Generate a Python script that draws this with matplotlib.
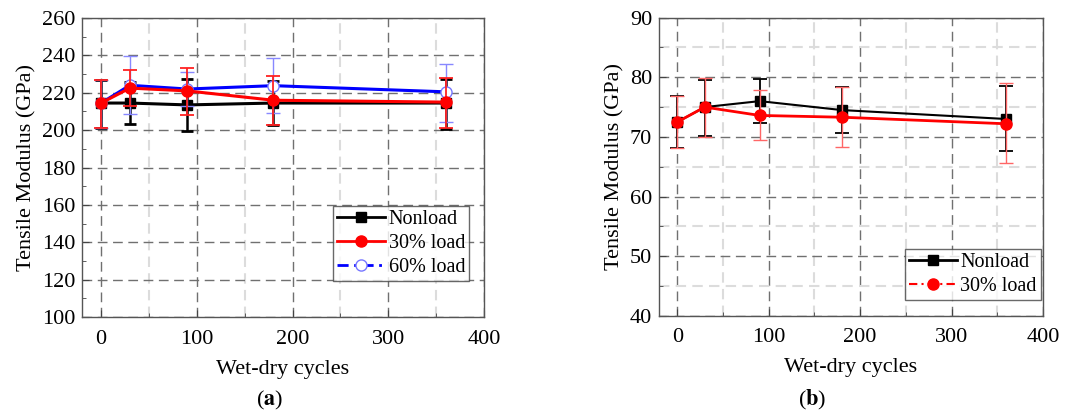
import matplotlib
matplotlib.use("Agg")
import matplotlib.pyplot as plt
from matplotlib.lines import Line2D
from matplotlib.ticker import MultipleLocator

plt.rcParams['font.family'] = ['Liberation Serif', 'DejaVu Serif']
plt.rcParams['mathtext.fontset'] = 'stix'

# ---- data panel (a) ----
cycles = [0, 30, 90, 180, 360]
a_non = [214.5, 214.5, 213.5, 214.5, 214.5]
a_non_lo = [201, 203.5, 199.5, 202.5, 200.5]
a_non_hi = [227, 225.5, 227.5, 226.5, 227.5]
a_30 = [214.5, 222.5, 221, 216, 215]
a_30_lo = [201, 213, 208, 203, 201]
a_30_hi = [227, 232, 233.5, 229, 228]
a_60 = [214.5, 224, 222, 223.8, 220.5]
a_60_lo = [201, 208.5, 213, 209, 204.5]
a_60_hi = [227, 239.5, 231, 238.5, 235.5]

# ---- data panel (b) ----
b_non = [72.5, 75, 76, 74.5, 73]
b_non_lo = [68.2, 70.2, 72.3, 70.6, 67.7]
b_non_hi = [76.8, 79.6, 79.7, 78.3, 78.5]
b_30 = [72.5, 75, 73.6, 73.3, 72.2]
b_30_lo = [68.2, 70.0, 69.4, 68.3, 65.6]
b_30_hi = [76.8, 79.8, 77.8, 78.3, 79.0]

legend_a = ["Nonload", "30% load", "60% load"]
legend_b = ["Nonload", "30% load"]

FS = 16
LFS = 14.5

fig = plt.figure(figsize=(10.83, 4.19), dpi=100)
ax1 = fig.add_axes([0.0757, 0.2434, 0.3712, 0.7136])
ax2 = fig.add_axes([0.6085, 0.2465, 0.3546, 0.7113])


def err(v, lo, hi):
    return [[a - b for a, b in zip(v, lo)], [b - a for a, b in zip(v, hi)]]


def style(ax, ymin, ymax, ymaj, ymin_step, minor_hgrid):
    ax.set_xlim(-20, 400)
    ax.set_ylim(ymin, ymax)
    ax.xaxis.set_major_locator(MultipleLocator(100))
    ax.xaxis.set_minor_locator(MultipleLocator(50))
    ax.yaxis.set_major_locator(MultipleLocator(ymaj))
    ax.yaxis.set_minor_locator(MultipleLocator(ymin_step))
    ax.grid(True, which='major', linestyle=(0, (7, 4)), color='#707070', linewidth=1.0)
    ax.grid(True, which='minor', axis='x', linestyle=(0, (5, 3)), color='#dcdcdc', linewidth=1.5)
    if minor_hgrid:
        ax.grid(True, which='minor', axis='y', linestyle=(0, (5, 3)), color='#dcdcdc', linewidth=1.5)
    ax.set_axisbelow(True)
    ax.tick_params(which='both', direction='in', labelsize=FS, color='#444444')
    ax.tick_params(which='major', length=5)
    ax.tick_params(which='minor', length=3)
    ax.tick_params(axis='x', pad=9)
    ax.tick_params(axis='y', pad=5)
    for s in ax.spines.values():
        s.set_color('#555555')
        s.set_linewidth(1.0)
    ax.set_xlabel("Wet-dry cycles", fontsize=FS, labelpad=8)
    ax.set_ylabel("Tensile Modulus (GPa)", fontsize=FS, labelpad=4)


# panel (a)
ax1.errorbar(cycles, a_60, yerr=err(a_60, a_60_lo, a_60_hi), color='#0000ff', lw=2.2,
             marker='o', ms=8, mfc='white', mec='#7777ff', mew=1.0,
             ecolor='#8888ff', elinewidth=1.0, capsize=5, capthick=1.0, zorder=3)
ax1.errorbar(cycles, a_30, yerr=err(a_30, a_30_lo, a_30_hi), color='#ff0000', lw=2.2,
             marker='o', ms=8, mfc='#ff0000', mec='#ff0000',
             ecolor='#ff2222', elinewidth=1.3, capsize=5, capthick=1.3, zorder=4)
ax1.errorbar(cycles, a_non, yerr=err(a_non, a_non_lo, a_non_hi), color='black', lw=2.2,
             marker='s', ms=7, mfc='black', mec='black',
             ecolor='black', elinewidth=1.8, capsize=4, capthick=2.0, zorder=2)
style(ax1, 100, 260, 20, 10, False)

h_a = [Line2D([], [], color='black', lw=2, ls='-', marker='s', ms=6.5),
       Line2D([], [], color='#ff0000', lw=2, ls='-', marker='o', ms=8),
       Line2D([], [], color='#0000ff', lw=2, ls=(0, (4, 2, 1, 2)), marker='o', ms=8,
              mfc='white', mec='#7777ff')]
leg1 = ax1.legend(h_a, legend_a, loc='upper right', bbox_to_anchor=(0.4331, 0.509),
                  bbox_transform=fig.transFigure, fontsize=LFS, frameon=True, fancybox=False,
                  handlelength=2.4, handletextpad=0.15, labelspacing=0.25, borderpad=0.2,
                  borderaxespad=0)
leg1.get_frame().set_edgecolor('#444444')
leg1.get_frame().set_linewidth(1.0)

# panel (b)
ax2.errorbar(cycles, b_non, yerr=err(b_non, b_non_lo, b_non_hi), color='black', lw=1.5,
             marker='s', ms=7, mfc='black', mec='black',
             ecolor='black', elinewidth=1.3, capsize=5, capthick=1.3, zorder=2)
ax2.errorbar(cycles, b_30, yerr=err(b_30, b_30_lo, b_30_hi), color='#ff0000', lw=2.0,
             marker='o', ms=8, mfc='#ff0000', mec='#ff0000',
             ecolor='#ff6666', elinewidth=1.0, capsize=5, capthick=1.0, zorder=3)
style(ax2, 40, 90, 10, 5, True)

h_b = [Line2D([], [], color='black', lw=2, ls='-', marker='s', ms=6.5),
       Line2D([], [], color='#ff0000', lw=1.5, ls=(0, (4, 2, 1, 2)), marker='o', ms=8)]
leg2 = ax2.legend(h_b, legend_b, loc='upper right', bbox_to_anchor=(0.961, 0.4057),
                  bbox_transform=fig.transFigure, fontsize=LFS, frameon=True, fancybox=False,
                  handlelength=2.4, handletextpad=0.15, labelspacing=0.25, borderpad=0.2,
                  borderaxespad=0)
leg2.get_frame().set_edgecolor('#444444')
leg2.get_frame().set_linewidth(1.0)

fig.text(0.2493, 0.045, r"($\mathbf{a}$)", ha='center', va='center', fontsize=FS)
fig.text(0.7497, 0.045, r"($\mathbf{b}$)", ha='center', va='center', fontsize=FS)

fig.savefig("out.png", dpi=100)
